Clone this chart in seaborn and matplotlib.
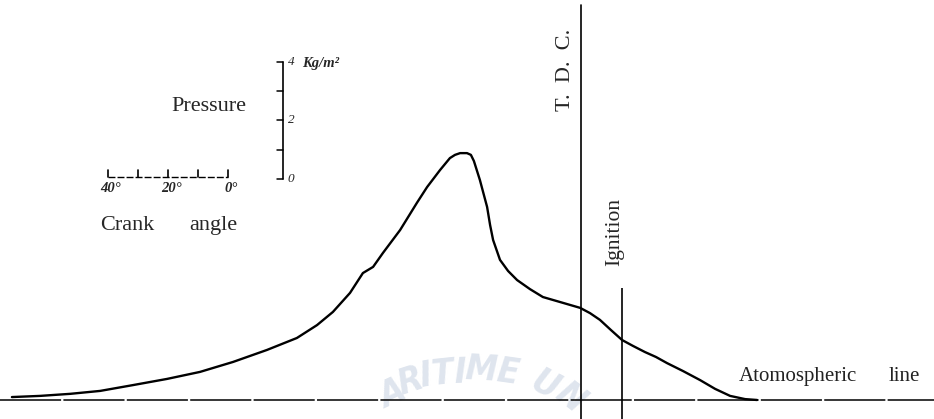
import numpy as np
import pandas as pd
import matplotlib
matplotlib.use("Agg")
import matplotlib.pyplot as plt
import seaborn as sns

# ---- data (crank angle in degrees relative to T.D.C., pressure in kg/cm2 above atmospheric) ----
crank_angle = [-189.7, -180.3, -170.3, -160.3, -149.3, -138.0, -127.0, -116.0, -104.7, -94.7,
               -88.0, -82.7, -77.0, -72.7, -69.3, -66.0, -60.3, -54.7, -51.3, -47.0,
               -43.7, -42.0, -40.3, -38.0, -36.7, -35.7, -33.7, -31.3, -30.3, -29.3,
               -27.0, -24.3, -21.3, -17.0, -12.7, -7.0, -0.3, 3.0, 6.3, 10.0,
               13.7, 17.3, 21.3, 25.0, 28.7, 34.0, 39.7, 44.7, 49.7, 54.7,
               58.7]
pressure = [0.10, 0.14, 0.21, 0.31, 0.51, 0.72, 0.96, 1.30, 1.71, 2.12,
            2.56, 3.01, 3.66, 4.34, 4.55, 5.03, 5.81, 6.74, 7.28, 7.86,
            8.27, 8.38, 8.44, 8.44, 8.38, 8.17, 7.52, 6.60, 5.98, 5.47,
            4.79, 4.41, 4.10, 3.79, 3.52, 3.35, 3.15, 2.97, 2.74, 2.39,
            2.05, 1.85, 1.64, 1.47, 1.26, 0.99, 0.68, 0.38, 0.14, 0.03,
            0.0]

tdc_angle = 0.0
ignition_angle = 13.7
ignition_top = 3.83

pressure_scale_ticks = [0, 1, 2, 3, 4]
pressure_scale_labels = ["0", "", "2", "", "4"]
crank_scale_ticks = [0, 10, 20, 30, 40]
crank_scale_labels = {0: "40°", 20: "20°", 40: "0°"}

df = pd.DataFrame({"angle": crank_angle, "pressure": pressure})

sns.set_style("white")
plt.rcParams["font.family"] = ["Liberation Serif", "DejaVu Serif"]

fig = plt.figure(figsize=(9.34, 4.19), dpi=100)
ax = fig.add_axes([0, 0, 1, 1])
ax.set_xlim(-193.67, 117.67)
ax.set_ylim(-0.65, 13.675)
ax.axis("off")

# watermark
wm_letters = ["A", "R", "I", "T", "I", "M", "E", "U", "N"]
wm_x = [-63.0, -57.0, -51.7, -46.3, -40.3, -33.3, -24.3, -12.0, -3.7]
wm_y = [0.20, 0.62, 0.80, 0.88, 0.92, 1.02, 0.95, 0.50, 0.08]
wm_rot = [25, 18, 10, 6, 2, -3, -8, -28, -38]
for ch, xx, yy, rr in zip(wm_letters, wm_x, wm_y, wm_rot):
    ax.text(xx, yy, ch, fontsize=26, fontweight="bold", fontstyle="italic",
            fontstretch="condensed", family=["DejaVu Sans"], color="#dfe5ee",
            rotation=rr, ha="center", va="center", zorder=0)

# atmospheric line
ax.axhline(0, color="black", lw=1.1, dashes=(40, 1.5), zorder=2)
# T.D.C. line
ax.axvline(tdc_angle, ymin=0, ymax=0.988, color="black", lw=1.2, zorder=2)
# ignition line
ax.vlines(ignition_angle, -0.65, ignition_top, color="black", lw=1.2, zorder=2)

# pressure curve
sns.lineplot(data=df, x="angle", y="pressure", sort=False, estimator=None,
             color="black", lw=1.7, ax=ax, zorder=3)

# texts
ax.text(-5.0, 11.3, "T.  D.  C.", rotation=90, ha="center", va="center", fontsize=16)
ax.text(11.3, 5.74, "Ignition", rotation=90, ha="center", va="center", fontsize=15.5)
ax.text(-124.0, 10.02, "Pressure", ha="center", va="center", fontsize=16)
ax.text(-151.3, 5.95, "Crank", ha="center", va="center", fontsize=16)
ax.text(-122.7, 5.95, "angle", ha="center", va="center", fontsize=16)
ax.text(72.3, 0.79, "Atomospheric", ha="center", va="center", fontsize=15, color="#222222")
ax.text(107.7, 0.79, "line", ha="center", va="center", fontsize=15, color="#222222")

# pressure scale bar
px0, py0 = -99.33, 7.56
ax.plot([px0, px0], [py0, py0 + 4], color="black", lw=1.2)
for t, lab in zip(pressure_scale_ticks, pressure_scale_labels):
    ax.plot([px0 - 2.0, px0], [py0 + t, py0 + t], color="black", lw=1.1)
    if lab:
        ax.text(px0 + 2.6, py0 + t, lab, ha="center", va="center", fontsize=9.5,
                fontstyle="italic")
ax.text(-86.7, 11.52, "Kg/m²", ha="center", va="center", fontsize=10.5, fontstyle="italic",
        fontweight="bold")

# crank angle scale bar
cx0, cy0 = -157.67, 7.62
ax.plot([cx0, cx0 + 40], [cy0, cy0], color="black", lw=1.0, dashes=(5, 1.5))
for t in crank_scale_ticks:
    ax.plot([cx0 + t, cx0 + t], [cy0, cy0 + 0.25], color="black", lw=1.2)
    if t in crank_scale_labels:
        ax.text(cx0 + t + 1.0, cy0 - 0.38, crank_scale_labels[t], ha="center", va="center",
                fontsize=10.5, fontstyle="italic", fontweight="bold")

fig.savefig("out.png", dpi=100)
